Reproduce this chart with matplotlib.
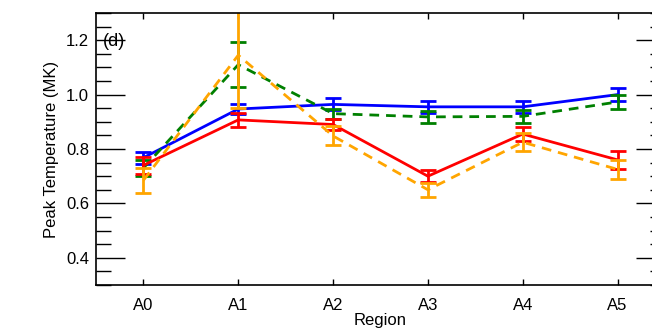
import matplotlib
matplotlib.use("Agg")
import matplotlib.pyplot as plt
from matplotlib.ticker import MultipleLocator

plt.rcParams['font.family'] = ['Liberation Sans', 'DejaVu Sans']

regions = ["A0", "A1", "A2", "A3", "A4", "A5"]

# peak temperature (MK) and error for each series
blue_t = [0.768, 0.947, 0.964, 0.955, 0.955, 1.000]
blue_e = [0.022, 0.020, 0.022, 0.023, 0.023, 0.023]
green_t = [0.730, 1.110, 0.930, 0.918, 0.920, 0.973]
green_e = [0.028, 0.083, 0.018, 0.022, 0.023, 0.026]
red_t = [0.740, 0.907, 0.890, 0.700, 0.855, 0.760]
red_e = [0.032, 0.027, 0.020, 0.022, 0.026, 0.034]
orange_t = [0.685, 1.145, 0.848, 0.650, 0.825, 0.725]
orange_e = [0.045, 0.195, 0.035, 0.026, 0.034, 0.034]

series = [
    (blue_t, blue_e, "blue", "-"),
    (green_t, green_e, "green", (0, (3.5, 2.5))),
    (red_t, red_e, "red", "-"),
    (orange_t, orange_e, "orange", (0, (3.5, 2.5))),
]

fig = plt.figure(figsize=(6.52, 3.33), dpi=100)
ax = fig.add_axes([96 / 652, 48 / 333, 569 / 652, 272 / 333])

x = list(range(len(regions)))
for t, e, c, ls in series:
    ax.plot(x, t, color=c, linestyle=ls, linewidth=2.0)
    ax.errorbar(x, t, yerr=e, fmt='none', ecolor=c, elinewidth=2.0,
                capsize=6, capthick=2.0)

ax.set_xlim(-0.5, 5.5)
ax.set_ylim(0.3, 1.3)
ax.set_xticks(x)
ax.set_xticklabels(regions)
ax.yaxis.set_minor_locator(MultipleLocator(0.05))
ax.set_yticks([0.4, 0.6, 0.8, 1.0, 1.2])
ax.set_yticklabels(["0.4", "0.6", "0.8", "1.0", "1.2"])

ax.tick_params(axis='x', which='major', direction='in', length=4, width=1,
               top=True, labelsize=12, pad=9)
ax.tick_params(axis='y', which='major', direction='in', length=21, width=1,
               right=True, labelsize=12, pad=5)
ax.tick_params(axis='y', which='minor', direction='in', length=11, width=1,
               right=True)
for s in ax.spines.values():
    s.set_linewidth(1.2)

ax.set_xlabel("Region", fontsize=12, labelpad=0)
ax.set_ylabel("Peak Temperature (MK)", fontsize=12, labelpad=5)
ax.text(-0.43, 1.195, "(d)", fontsize=13, va='center', ha='left')

fig.savefig("out.png", dpi=100)
